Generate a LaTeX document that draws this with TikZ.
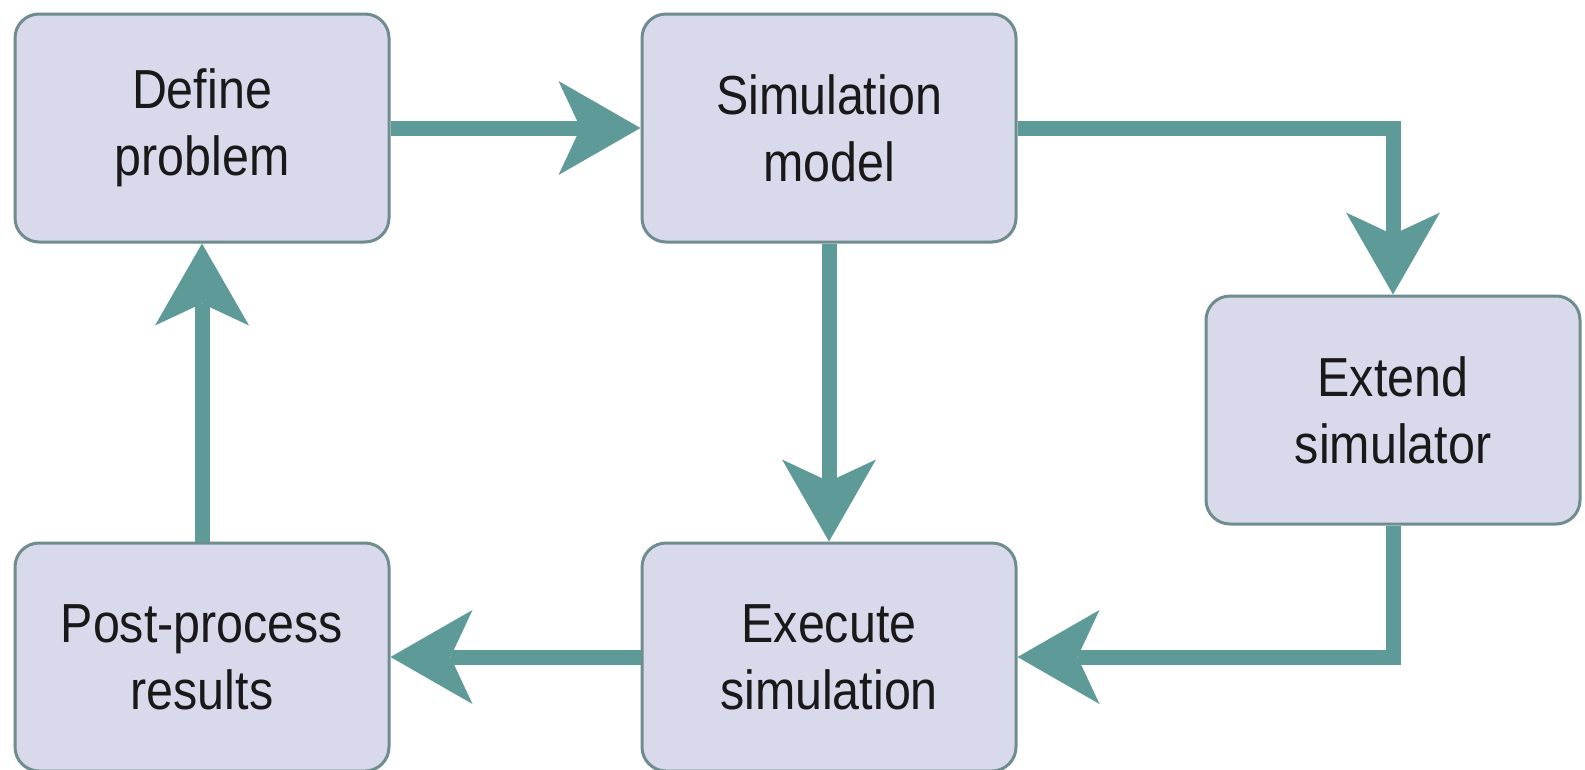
\documentclass[tikz,border=0pt]{standalone}
\usepackage{fontspec}
\setmainfont[FakeStretch=0.88]{Liberation Sans}
\usetikzlibrary{arrows.meta}
\definecolor{boxfill}{HTML}{D8D9EB}
\definecolor{boxline}{HTML}{6F8C8E}
\definecolor{arrcol}{HTML}{5E9A97}
\tikzset{
  box/.style={draw=boxline, line width=3pt, fill=boxfill, rounded corners=24pt,
    minimum width=374pt, minimum height=228pt, align=center, inner sep=0pt,
    font=\fontsize{55}{67}\selectfont, text=black!90},
  arr/.style={draw=arrcol, line width=15pt, line join=miter,
    -{Stealth[length=82pt,width=94pt,inset=22pt,line width=0pt]}}
}
\begin{document}
\begin{tikzpicture}[x=1pt,y=-1pt]
\useasboundingbox[fill=white] (0,0) rectangle (1585,769);
\node[box] (def)  at (202,128) {Define\\problem};
\node[box] (sim)  at (829,128) {Simulation\\model};
\node[box] (ext)  at (1393,410) {Extend\\simulator};
\node[box] (post) at (202,657) {Post-process\\results};
\node[box] (exe)  at (829,657) {Execute\\simulation};
\draw[arr] (def) -- (sim);
\draw[arr] (sim.east) -| (ext.north);
\draw[arr] (sim) -- (exe);
\draw[arr] (ext.south) |- (exe.east);
\draw[arr] (exe) -- (post);
\draw[arr] (post) -- (def);
\end{tikzpicture}
\end{document}
